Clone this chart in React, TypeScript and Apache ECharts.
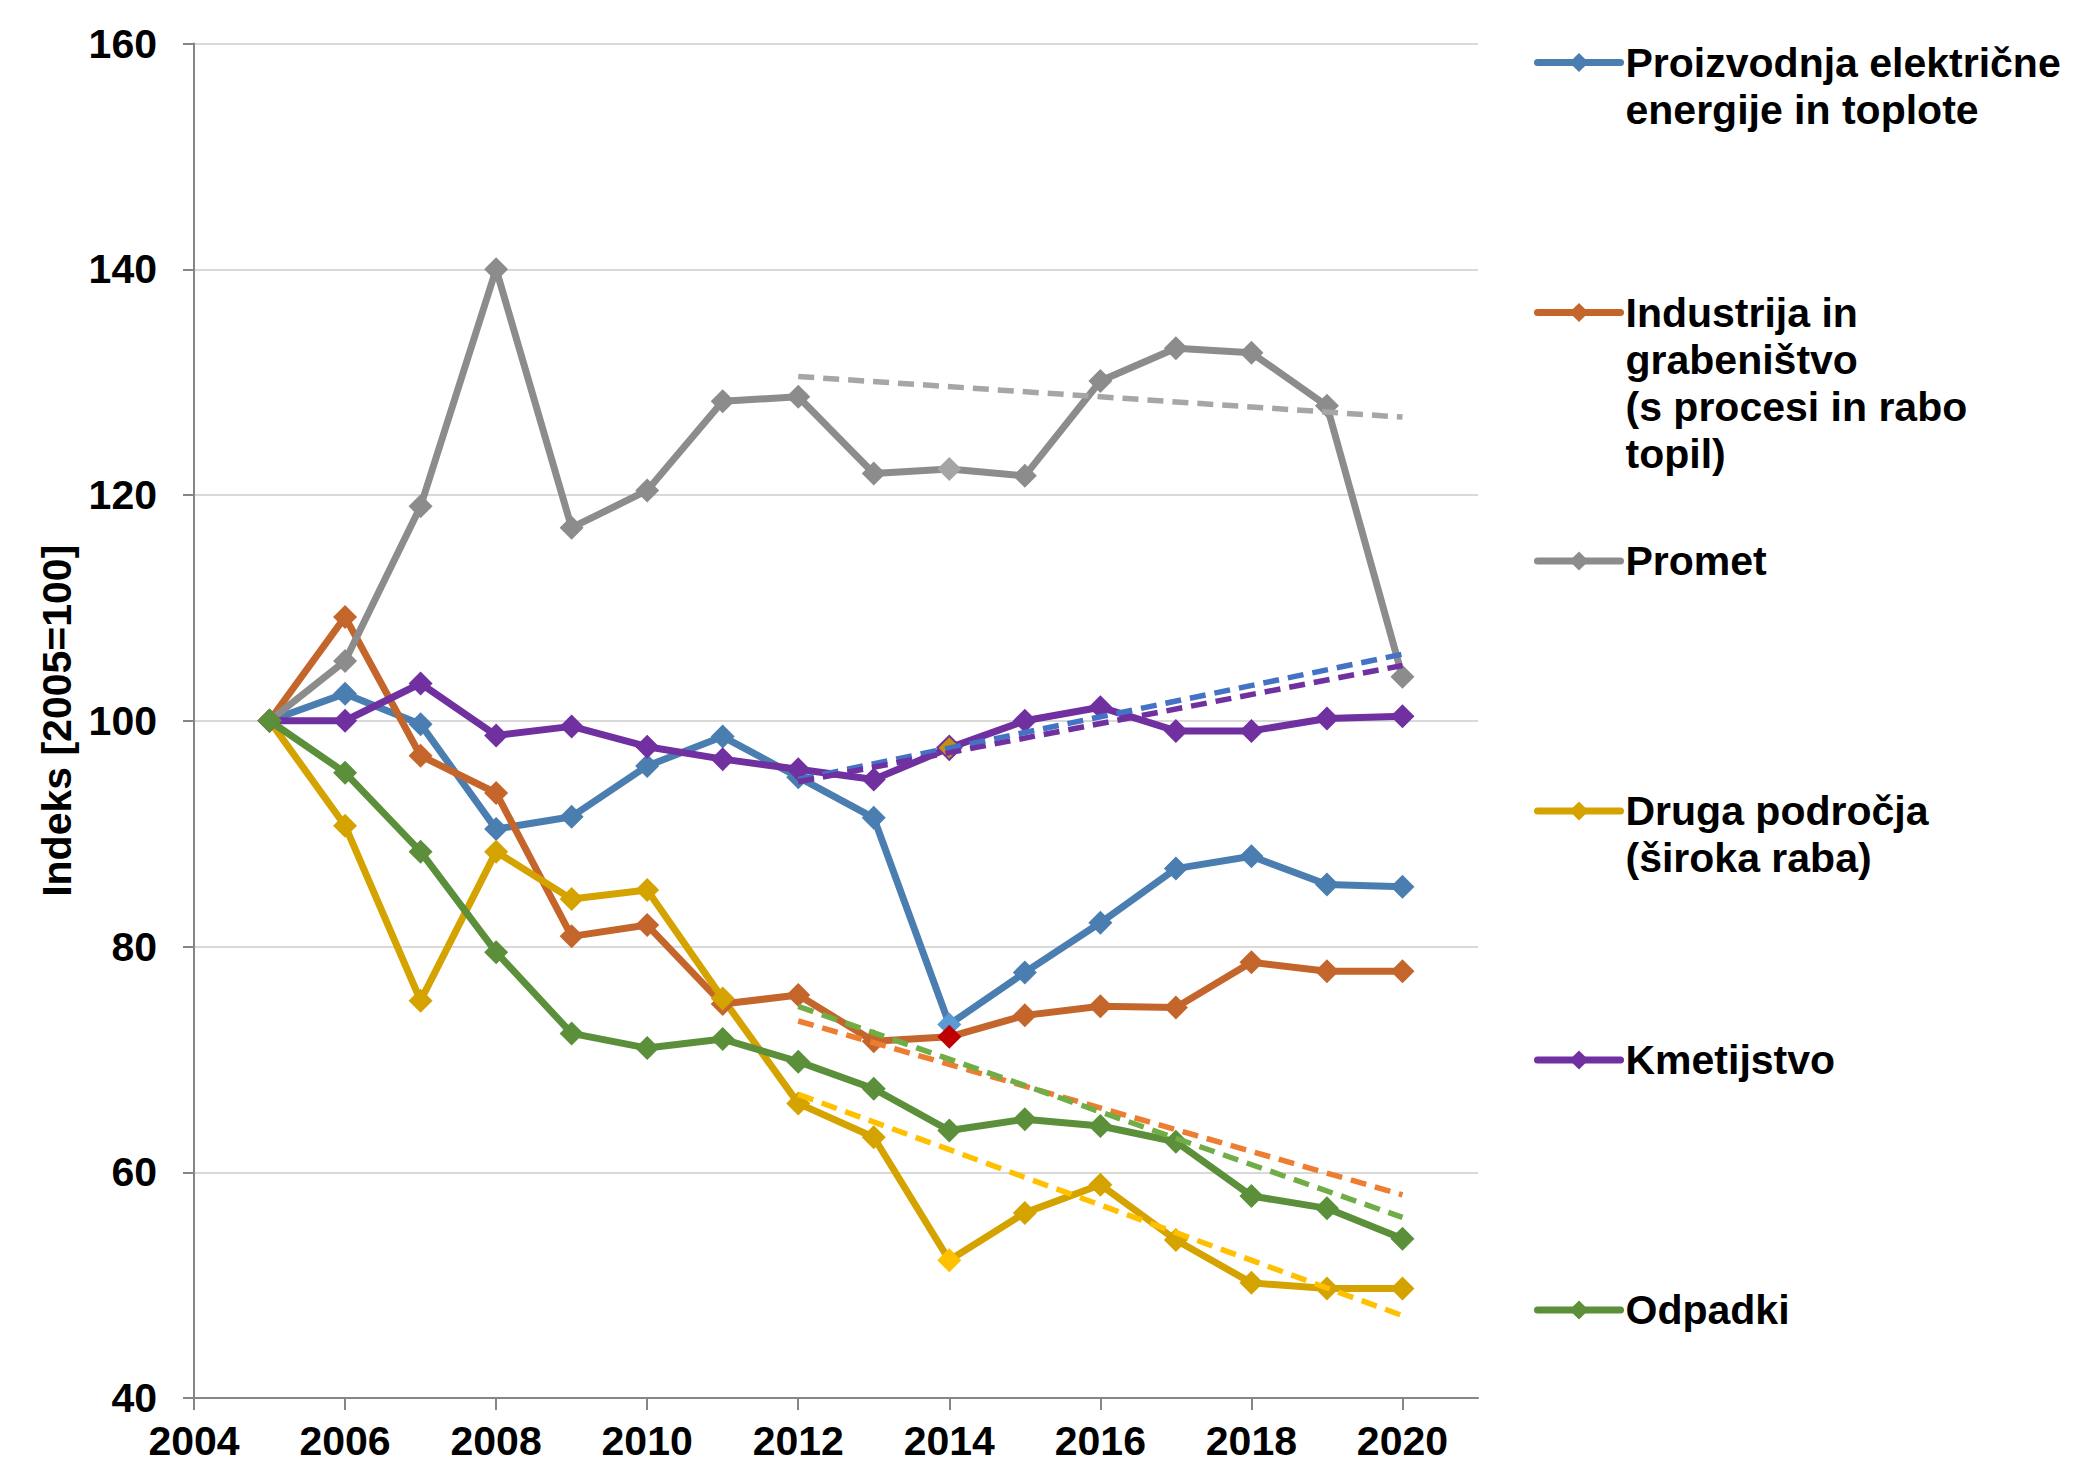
import React, { useEffect, useRef } from 'react';
import * as echarts from 'echarts';

const years = [2005, 2006, 2007, 2008, 2009, 2010, 2011, 2012, 2013, 2014, 2015, 2016, 2017, 2018, 2019, 2020];

const seriesNames = [
  'Proizvodnja električne energije in toplote',
  'Industrija in grabeništvo (s procesi in rabo topil)',
  'Promet',
  'Druga področja (široka raba)',
  'Kmetijstvo',
  'Odpadki',
];
const legendLabels = [
  'Proizvodnja električne\nenergije in toplote',
  'Industrija in\ngrabeništvo\n(s procesi in rabo\ntopil)',
  'Promet',
  'Druga področja\n(široka raba)',
  'Kmetijstvo',
  'Odpadki',
];

const proizvodnja = [100, 102.4, 99.7, 90.4, 91.5, 96.0, 98.6, 95.0, 91.4, 73.1, 77.7, 82.1, 86.9, 88.0, 85.5, 85.3];
const industrija = [100, 109.2, 96.9, 93.6, 80.9, 81.9, 74.9, 75.7, 71.6, 72.0, 73.9, 74.7, 74.6, 78.6, 77.8, 77.8];
const promet = [100, 105.3, 119.0, 140.0, 117.1, 120.4, 128.3, 128.7, 121.9, 122.3, 121.7, 130.1, 133.0, 132.6, 127.9, 103.9];
const druga = [100, 90.7, 75.2, 88.4, 84.2, 85.0, 75.4, 66.1, 63.1, 52.2, 56.4, 58.9, 54.0, 50.2, 49.7, 49.7];
const kmetijstvo = [100, 100.0, 103.3, 98.7, 99.5, 97.7, 96.6, 95.7, 94.8, 97.6, 100.0, 101.2, 99.1, 99.1, 100.2, 100.4];
const odpadki = [100, 95.4, 88.4, 79.5, 72.3, 71.0, 71.8, 69.8, 67.4, 63.7, 64.7, 64.1, 62.7, 57.9, 56.8, 54.1];

const trendYears = [2012, 2020];
const trendProizvodnja = [94.8, 105.9];
const trendIndustrija = [73.4, 58.0];
const trendPromet = [130.5, 126.9];
const trendDruga = [66.9, 47.3];
const trendKmetijstvo = [94.6, 104.9];
const trendOdpadki = [74.7, 56.0];

const xTicks = [2004, 2006, 2008, 2010, 2012, 2014, 2016, 2018, 2020];

const seriesValues = [proizvodnja, industrija, promet, druga, kmetijstvo, odpadki];
const trendValues = [trendProizvodnja, trendIndustrija, trendPromet, trendDruga, trendKmetijstvo, trendOdpadki];
const seriesColors = ['#4A7EB1', '#C4662B', '#8C8C8C', '#D4A300', '#7030A0', '#5B8F3A'];
const trendColors = ['#4472C4', '#ED7D31', '#A6A6A6', '#FFC000', '#7030A0', '#70AD47'];
// highlighted marker colours of the 2014 points
const special2014 = ['#5B9BD5', '#C00000', '#A5A5A5', '#FFC000', '#C58F10', null];
const legendCenters = [62.5, 312.5, 561, 811, 1060, 1310];

const FONT = "'Liberation Sans', Arial, sans-serif";
const FS = 41;
const LH = 47;

export default function App() {
  const ref = useRef<HTMLDivElement>(null);
  useEffect(() => {
    if (!ref.current) return;
    const chart = echarts.init(ref.current, null, { renderer: 'svg' });

    const mainSeries = seriesNames.map((name, s) => ({
      name,
      type: 'line',
      z: 2,
      symbol: 'diamond',
      symbolSize: 24,
      color: seriesColors[s],
      lineStyle: { width: 7, color: seriesColors[s], join: 'round' },
      itemStyle: { color: seriesColors[s] },
      emphasis: { disabled: true },
      data: seriesValues[s].map((v, i) => {
        const item: any = { value: [years[i], v] };
        if (years[i] === 2014 && special2014[s]) {
          item.itemStyle = s === 4
            ? { color: special2014[s], borderColor: seriesColors[s], borderWidth: 2 }
            : { color: special2014[s] };
        }
        return item;
      }),
    }));

    const trendSeries = seriesNames.map((name, s) => ({
      name: name + ' trend',
      type: 'line',
      z: 3,
      symbol: 'none',
      silent: true,
      lineStyle: { width: 5.5, color: trendColors[s], type: [16, 9] },
      emphasis: { disabled: true },
      data: trendYears.map((y, i) => [y, trendValues[s][i]]),
    }));

    const legends = seriesNames.map((name, s) => {
      const n = legendLabels[s].split('\n').length;
      const H = (2 * n - 1) * LH;
      // blank lines above keep the first text line level with the icon
      const label = '\n'.repeat(n - 1) + legendLabels[s];
      return {
        data: [name],
        orient: 'vertical',
        left: 1534,
        top: legendCenters[s] - H / 2,
        padding: 0,
        itemWidth: 83,
        itemHeight: 24,
        selectedMode: false,
        formatter: () => label,
        lineStyle: { width: 7, cap: 'round' },
        textStyle: {
          fontFamily: FONT,
          fontSize: FS,
          fontWeight: 'bold',
          color: '#000',
          lineHeight: LH,
        },
      };
    });

    chart.setOption({
      animation: false,
      backgroundColor: '#fff',
      grid: { left: 194, right: 597, top: 43.5, bottom: 66, containLabel: false },
      legend: legends,
      xAxis: {
        type: 'value',
        min: 2004,
        max: 2021,
        interval: 2,
        axisLine: { show: true, lineStyle: { color: '#868686', width: 2 } },
        axisTick: { show: true, customValues: xTicks, length: 12, lineStyle: { color: '#868686', width: 2 } },
        splitLine: { show: false },
        axisLabel: {
          customValues: xTicks,
          margin: 26,
          lineHeight: 33,
          fontFamily: FONT,
          fontSize: FS,
          fontWeight: 'bold',
          color: '#000',
          formatter: (v: number) => String(v),
        },
      },
      yAxis: {
        type: 'value',
        min: 40,
        max: 160,
        interval: 20,
        name: 'Indeks [2005=100]',
        nameLocation: 'middle',
        nameRotate: 90,
        nameGap: 116,
        nameTextStyle: { fontFamily: FONT, fontSize: FS, fontWeight: 'bold', color: '#000' },
        axisLine: { show: true, lineStyle: { color: '#868686', width: 2 } },
        axisTick: { show: true, length: 11, lineStyle: { color: '#868686', width: 2 } },
        splitLine: { show: true, lineStyle: { color: '#D9D9D9', width: 2 } },
        axisLabel: {
          margin: 37,
          fontFamily: FONT,
          fontSize: FS,
          fontWeight: 'bold',
          color: '#000',
        },
      },
      series: [...mainSeries, ...trendSeries],
    });

    return () => chart.dispose();
  }, []);

  return (
    <div
      ref={ref}
      style={{ position: 'absolute', left: 0, top: 0, width: 2075, height: 1464 }}
    />
  );
}
